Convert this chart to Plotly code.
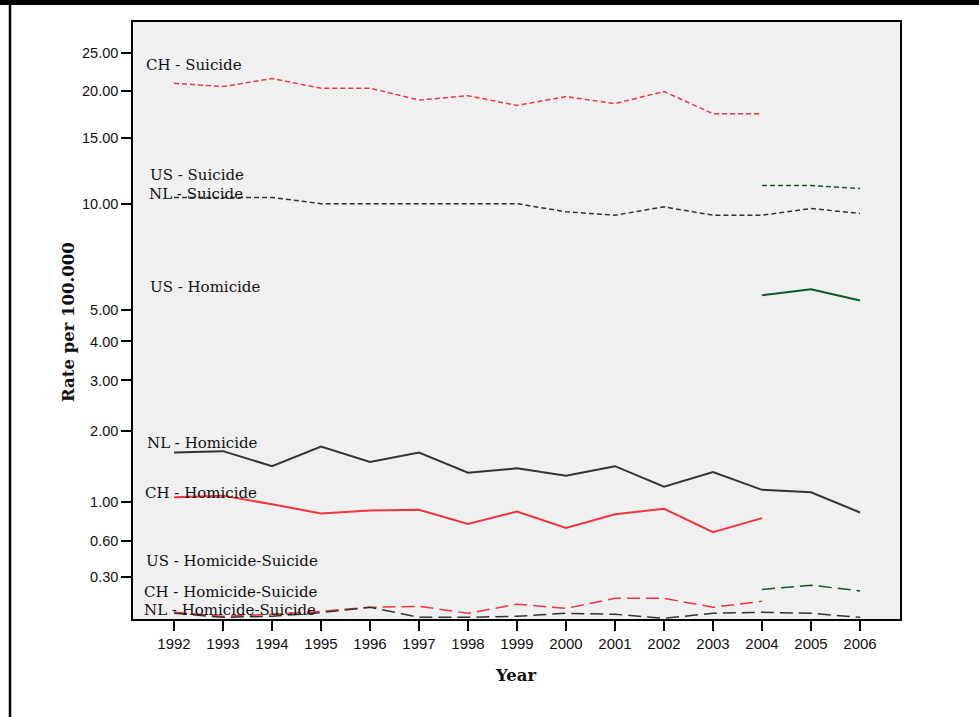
import plotly.graph_objects as go

# Years covered by each series
years_all = list(range(1992, 2007))
years_ch = list(range(1992, 2005))
years_us = [2004, 2005, 2006]

# Rates per 100.000
ch_suicide = [20.9, 20.5, 21.5, 20.3, 20.3, 18.9, 19.4, 18.3, 19.3, 18.5, 19.9, 17.4, 17.4]
nl_suicide = [10.4, 10.4, 10.4, 10.0, 10.0, 10.0, 10.0, 10.0, 9.5, 9.3, 9.8, 9.3, 9.3, 9.7, 9.4]
us_suicide = [11.2, 11.2, 11.0]

us_homicide = [5.51, 5.74, 5.32]
nl_homicide = [1.65, 1.67, 1.45, 1.74, 1.51, 1.65, 1.36, 1.42, 1.32, 1.45, 1.18, 1.37, 1.14, 1.11, 0.88]
ch_homicide = [1.05, 1.07, 0.97, 0.87, 0.90, 0.91, 0.76, 0.89, 0.72, 0.86, 0.92, 0.68, 0.82]

us_hom_suicide = [0.21, 0.24, 0.20]
ch_hom_suicide = [0.062, 0.038, 0.05, 0.068, 0.093, 0.099, 0.056, 0.112, 0.086, 0.15, 0.15, 0.093, 0.131]
nl_hom_suicide = [0.056, 0.032, 0.038, 0.06, 0.093, 0.032, 0.032, 0.038, 0.056, 0.05, 0.026, 0.056, 0.062, 0.056, 0.032]

y_ticks = [0.30, 0.60, 1.00, 2.00, 3.00, 4.00, 5.00, 10.00, 15.00, 20.00, 25.00]

# Series labels (text, left x px, centre y px)
labels = [
    ("CH - Suicide", 144, 65),
    ("US - Suicide", 148, 175),
    ("NL - Suicide", 147, 194),
    ("US - Homicide", 148, 287),
    ("NL - Homicide", 145, 443),
    ("CH - Homicide", 143, 493),
    ("US - Homicide-Suicide", 144, 561),
    ("CH - Homicide-Suicide", 142, 592),
    ("NL - Homicide-Suicide", 142, 610),
]

RED = "#f0343e"
GRAY = "#333333"
GREEN = "#0c5a2c"
SHORT = "5px,3px"
LONG = "13px,6px"

series = [
    (years_ch, ch_suicide, RED, SHORT, 1.5),
    (years_all, nl_suicide, GRAY, SHORT, 1.5),
    (years_us, us_suicide, GREEN, SHORT, 1.5),
    (years_us, us_homicide, GREEN, "solid", 2),
    (years_all, nl_homicide, GRAY, "solid", 2),
    (years_ch, ch_homicide, RED, "solid", 2),
    (years_us, us_hom_suicide, GREEN, LONG, 1.5),
    (years_ch, ch_hom_suicide, RED, LONG, 1.5),
    (years_all, nl_hom_suicide, GRAY, LONG, 1.5),
]

fig = go.Figure()
# the rate axis is log(1 + rate): plot 1 + rate on a log axis
for xs, vals, color, dash, width in series:
    fig.add_trace(go.Scatter(
        x=xs, y=[v + 1 for v in vals], mode="lines",
        line=dict(color=color, dash=dash, width=width),
        showlegend=False, hoverinfo="skip",
    ))

W, H = 979, 717
L, R, T, B = 133, 900, 22, 619
pw, ph = R - L, B - T


def px_x(x):
    return (x - L) / pw


def px_y(y):
    return (B - y) / ph


annotations = [
    dict(text=t, x=px_x(x), y=px_y(y), xref="paper", yref="paper",
         xanchor="left", yanchor="middle", showarrow=False,
         font=dict(family="DejaVu Serif", size=15, color="#111111"))
    for t, x, y in labels
]
annotations.append(dict(
    text="<b>Year</b>", x=px_x(516), y=px_y(675), xref="paper", yref="paper",
    xanchor="center", yanchor="middle", showarrow=False,
    font=dict(family="DejaVu Serif", size=16.5, color="#111111")))
annotations.append(dict(
    text="<b>Rate per 100.000</b>", x=px_x(68), y=px_y(322), xref="paper", yref="paper",
    xanchor="center", yanchor="middle", showarrow=False, textangle=-90,
    font=dict(family="DejaVu Serif", size=16.5, color="#111111")))

shapes = [
    # page frame: black band on top, rule on the left
    dict(type="rect", xref="paper", yref="paper",
         x0=px_x(0), x1=px_x(W), y0=px_y(0), y1=px_y(5),
         fillcolor="black", line=dict(width=0), layer="above"),
    dict(type="line", xref="paper", yref="paper",
         x0=px_x(10), x1=px_x(10), y0=px_y(0), y1=px_y(W),
         line=dict(color="black", width=2.5), layer="above"),
]

fig.update_layout(
    width=W, height=H,
    margin=dict(l=L, r=W - R, t=T, b=H - B, pad=0),
    paper_bgcolor="white",
    plot_bgcolor="#f0f0f0",
    annotations=annotations,
    shapes=shapes,
    xaxis=dict(
        range=[1991.163, 2006.816],
        tickmode="array", tickvals=years_all, ticktext=[str(y) for y in years_all],
        ticks="outside", ticklen=10, tickwidth=1.5, tickcolor="black",
        tickfont=dict(family="Liberation Sans", size=15, color="#111111"),
        showgrid=False, zeroline=False,
        showline=True, linecolor="black", linewidth=1.5, mirror=True,
    ),
    yaxis=dict(
        type="log",
        range=[0.00945, 1.4928],
        tickmode="array", tickvals=[t + 1 for t in y_ticks],
        ticktext=[f"{t:.2f}" for t in y_ticks],
        ticks="outside", ticklen=10, tickwidth=1.5, tickcolor="black",
        tickfont=dict(family="Liberation Sans", size=14.5, color="#111111"),
        showgrid=False, zeroline=False,
        showline=True, linecolor="black", linewidth=1.5, mirror=True,
    ),
)

fig.write_html("out.html")
